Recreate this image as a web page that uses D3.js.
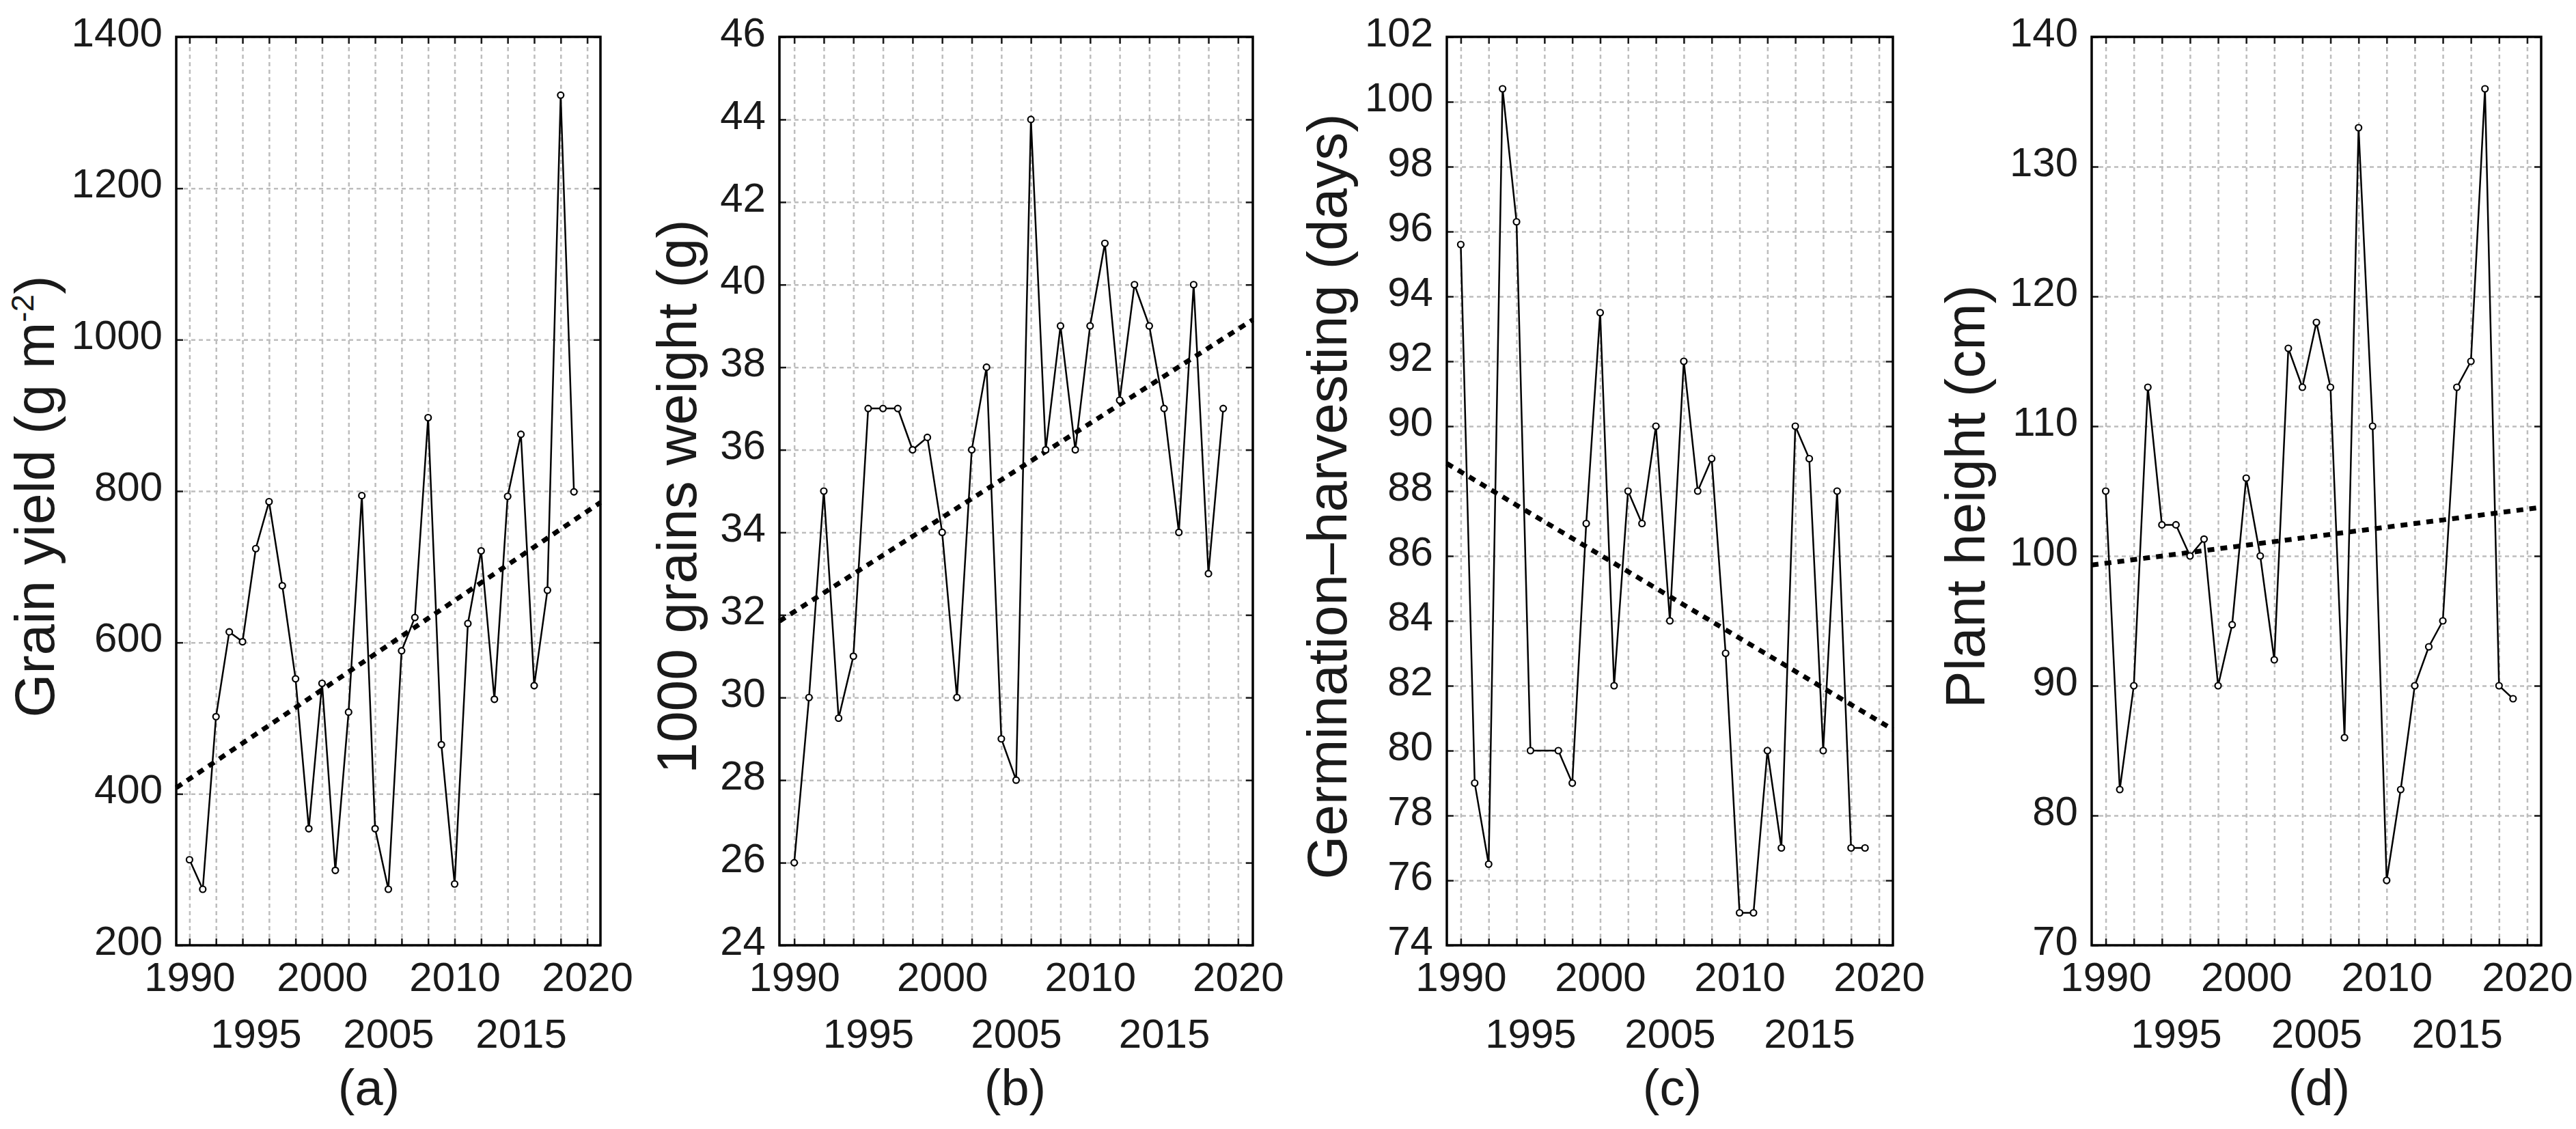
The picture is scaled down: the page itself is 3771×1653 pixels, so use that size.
<!DOCTYPE html>
<html>
<head>
<meta charset="utf-8">
<script src="https://cdn.jsdelivr.net/npm/d3@7"></script>
<style>
  body { margin: 0; background: #fff; }
</style>
</head>
<body>
<div id="chart"></div>
<script>
// years of observation
const years = [1990, 1991, 1992, 1993, 1994, 1995, 1996, 1997, 1998, 1999,
  2000, 2001, 2002, 2003, 2004, 2005, 2006, 2007, 2008, 2009,
  2010, 2011, 2012, 2013, 2014, 2015, 2016, 2017, 2018, 2019]

// (a) grain yield, g m-2
const grainYield = [313, 274, 502, 614, 601, 724, 786, 675, 552, 354,
  546, 299, 508, 794, 354, 274, 589, 633, 897, 465,
  281, 625, 721, 525, 793, 875, 543, 669, 1323, 799]
// (b) 1000 grains weight, g
const grainWeight = [26, 30, 35, 29.5, 31, 37, 37, 37, 36, 36.3,
  34, 30, 36, 38, 29, 28, 44, 36, 39, 36,
  39, 41, 37.2, 40, 39, 37, 34, 40, 33, 37]
// (c) germination-harvesting, days (no marker in 1996)
const germHarvest = [95.6, 79, 76.5, 100.4, 96.3, 80, null, 80, 79, 87,
  93.5, 82, 88, 87, 90, 84, 92, 88, 89, 83,
  75, 75, 80, 77, 90, 89, 80, 88, 77, 77]
// (d) plant height, cm
const plantHeight = [105, 82, 90, 113, 102.4, 102.4, 100, 101.3, 90, 94.7,
  106, 100, 92, 116, 113, 118, 113, 86, 133, 110,
  75, 82, 90, 93, 95, 113, 115, 136, 90, 89]

// linear trends, values at the two ends of the axis
const trendYears = [1989, 2021]
const trendYield = [408, 785]
const trendWeight = [31.85, 39.15]
const trendGerm = [88.85, 80.65]
const trendHeight = [99.3, 103.75]

// ticks
const gridYears = [1990, 1992, 1994, 1996, 1998, 2000, 2002, 2004, 2006, 2008,
  2010, 2012, 2014, 2016, 2018, 2020]
const labelYears = [1990, 1995, 2000, 2005, 2010, 2015, 2020]
const ticksYield = [200, 400, 600, 800, 1000, 1200, 1400]
const ticksWeight = [24, 26, 28, 30, 32, 34, 36, 38, 40, 42, 44, 46]
const ticksGerm = [74, 76, 78, 80, 82, 84, 86, 88, 90, 92, 94, 96, 98, 100, 102]
const ticksHeight = [70, 80, 90, 100, 110, 120, 130, 140]

const width = 3771
const height = 1653
const plotTop = 54
const plotBottom = 1384
const tickFont = "'Liberation Sans Narrow', 'Arial Narrow', 'Liberation Sans', Arial, sans-serif"
const textFont = "'Liberation Sans', Arial, sans-serif"
const ink = '#1a1a1a'

const panels = [
  {values: grainYield, trend: trendYield, yTicks: ticksYield, tag: '(a)',
    left: 258, right: 879, titleX: 79, tagX: 540},
  {values: grainWeight, trend: trendWeight, yTicks: ticksWeight, tag: '(b)',
    left: 1141, right: 1834, titleX: 1019, tagX: 1486, title: '1000 grains weight (g)'},
  {values: germHarvest, trend: trendGerm, yTicks: ticksGerm, tag: '(c)',
    left: 2118, right: 2771, titleX: 1971, tagX: 2448, title: 'Germination\u2013harvesting (days)'},
  {values: plantHeight, trend: trendHeight, yTicks: ticksHeight, tag: '(d)',
    left: 3062, right: 3720, titleX: 2905, tagX: 3395, title: 'Plant height (cm)'}
]

const svg = d3
  .select('#chart')
  .append('svg')
  .attr('width', width)
  .attr('height', height)
  .style('background', '#fff')

const styleGrid = sel => {
  sel.select('.domain').remove()
  sel.selectAll('line')
    .attr('stroke', '#bdbdbd')
    .attr('stroke-width', 2.5)
    .attr('stroke-dasharray', '6,5')
}

const styleTicks = sel => {
  sel.select('.domain').remove()
  sel.selectAll('line').attr('stroke', ink).attr('stroke-width', 2.5)
}

panels.forEach(p => {
  const x = d3.scaleLinear().domain(trendYears).range([p.left, p.right])
  const y = d3
    .scaleLinear()
    .domain(d3.extent(p.yTicks))
    .range([plotBottom, plotTop])
  const g = svg.append('g')

  // dashed grid
  g.append('g')
    .attr('transform', `translate(0,${plotBottom})`)
    .call(d3.axisBottom(x).tickValues(gridYears).tickSize(-(plotBottom - plotTop)).tickFormat(''))
    .call(styleGrid)
  g.append('g')
    .attr('transform', `translate(${p.left},0)`)
    .call(d3.axisLeft(y).tickValues(p.yTicks).tickSize(-(p.right - p.left)).tickFormat(''))
    .call(styleGrid)

  // inner tick marks on all four sides
  g.append('g').attr('transform', `translate(0,${plotBottom})`)
    .call(d3.axisBottom(x).tickValues(gridYears).tickSize(-10).tickFormat(''))
    .call(styleTicks)
  g.append('g').attr('transform', `translate(0,${plotTop})`)
    .call(d3.axisTop(x).tickValues(gridYears).tickSize(-10).tickFormat(''))
    .call(styleTicks)
  g.append('g').attr('transform', `translate(${p.left},0)`)
    .call(d3.axisLeft(y).tickValues(p.yTicks).tickSize(-10).tickFormat(''))
    .call(styleTicks)
  g.append('g').attr('transform', `translate(${p.right},0)`)
    .call(d3.axisRight(y).tickValues(p.yTicks).tickSize(-10).tickFormat(''))
    .call(styleTicks)

  // y tick labels
  const yAxis = g.append('g')
    .attr('transform', `translate(${p.left},0)`)
    .call(d3.axisLeft(y).tickValues(p.yTicks).tickSize(0).tickPadding(20).tickFormat(d3.format('d')))
  yAxis.select('.domain').remove()
  yAxis.selectAll('text')
    .attr('dy', '0.22em')
    .attr('fill', ink)
    .style('font-family', tickFont)
    .style('font-size', '60px')

  // x tick labels, two rows
  const xAxis = g.append('g')
    .attr('transform', `translate(0,${plotBottom})`)
    .call(d3.axisBottom(x).tickValues(labelYears).tickSize(0).tickPadding(23).tickFormat(d3.format('d')))
  xAxis.select('.domain').remove()
  xAxis.selectAll('text')
    .attr('fill', ink)
    .style('font-family', tickFont)
    .style('font-size', '60px')
    .attr('y', d => (d % 10 === 0 ? 24 : 107))

  // trend line
  g.append('line')
    .attr('x1', x(trendYears[0]))
    .attr('x2', x(trendYears[1]))
    .attr('y1', y(p.trend[0]))
    .attr('y2', y(p.trend[1]))
    .attr('stroke', '#000')
    .attr('stroke-width', 7)
    .attr('stroke-dasharray', '10,9')

  // series
  const pts = years
    .map((yr, i) => ({yr, v: p.values[i]}))
    .filter(d => d.v != null)
  g.append('path')
    .datum(pts)
    .attr('fill', 'none')
    .attr('stroke', '#000')
    .attr('stroke-width', 2.5)
    .attr('d', d3.line().x(d => x(d.yr)).y(d => y(d.v)))
  g.selectAll('circle.pt')
    .data(pts)
    .enter()
    .append('circle')
    .attr('class', 'pt')
    .attr('cx', d => x(d.yr))
    .attr('cy', d => y(d.v))
    .attr('r', 4.5)
    .attr('fill', '#fff')
    .attr('stroke', '#000')
    .attr('stroke-width', 2.2)

  // frame
  g.append('rect')
    .attr('x', p.left)
    .attr('y', plotTop)
    .attr('width', p.right - p.left)
    .attr('height', plotBottom - plotTop)
    .attr('fill', 'none')
    .attr('stroke', '#000')
    .attr('stroke-width', 3.5)

  // axis title
  const title = g.append('text')
    .attr('transform', `translate(${p.titleX},${(plotTop + plotBottom) / 2 + 8}) rotate(-90)`)
    .attr('text-anchor', 'middle')
    .attr('fill', ink)
    .style('font-family', textFont)
    .style('font-size', '82px')
  if (p.title) {
    title.text(p.title)
  } else {
    title.append('tspan').text('Grain yield (g m')
    title.append('tspan').attr('dy', -30).style('font-size', '46px').text('-2')
    title.append('tspan').attr('dy', 30).text(')')
  }

  // panel tag
  g.append('text')
    .attr('x', p.tagX)
    .attr('y', 1618)
    .attr('text-anchor', 'middle')
    .attr('fill', ink)
    .style('font-family', textFont)
    .style('font-size', '74px')
    .text(p.tag)
})
</script>
</body>
</html>
